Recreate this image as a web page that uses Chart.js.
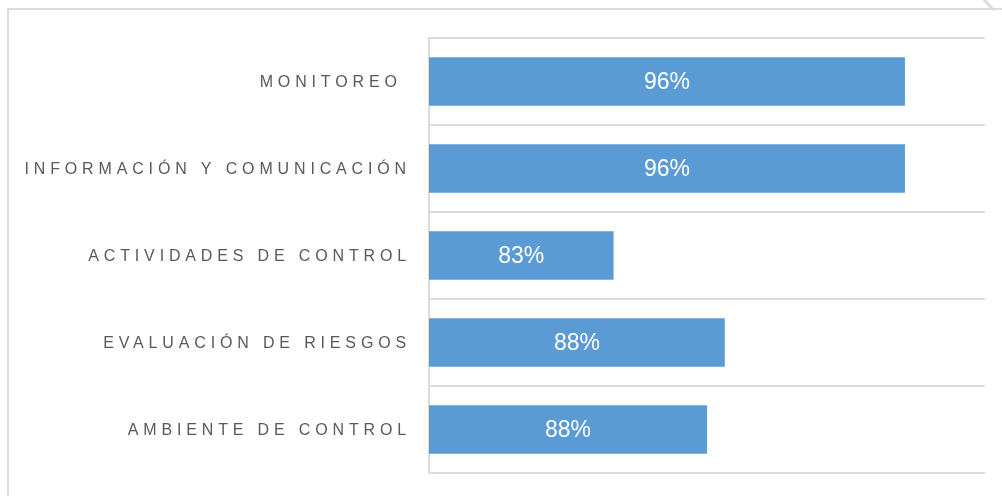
<!DOCTYPE html>
<html lang="es">
<head>
<meta charset="UTF-8">
<title>Componentes del control interno</title>
<script src="https://cdn.jsdelivr.net/npm/chart.js"></script>
<style>
    html, body {
        margin: 0;
        padding: 0;
        background: #fff;
    }

    .wrap {
        position: relative;
        width: 1002px;
        height: 496px;
        overflow: hidden;
    }

    /* light frame around the chart */
    .frame {
        position: absolute;
        left: 7px;
        top: 8px;
        width: 1100px;
        height: 600px;
        border-left: 2px solid #dcdcdc;
        border-top: 2px solid #dcdcdc;
    }

    .corner {
        position: absolute;
        left: 987px;
        top: -3px;
        width: 3px;
        height: 15px;
        background: #dcdcdc;
        transform: rotate(-42deg);
    }

    canvas {
        position: absolute;
        left: 0;
        top: 0;
    }
</style>
</head>
<body>
<div class="wrap">
    <div class="frame"></div>
    <div class="corner"></div>
    <canvas id="chart" width="1002" height="496"></canvas>
</div>

<script>
    // Components, top to bottom
    const categories = ['MONITOREO ', 'INFORMACIÓN Y COMUNICACIÓN', 'ACTIVIDADES DE CONTROL', 'EVALUACIÓN DE RIESGOS', 'AMBIENTE DE CONTROL'];
    // Compliance per component (%)
    const values = [96.4, 96.4, 83.3, 88.3, 87.5];
    const axisMin = 75;
    const axisMax = 100;

    // Spaced-out category names to the left of the axis
    const categoryLabels = {
        id: 'categoryLabels',
        afterDraw(chart) {
            const ctx = chart.ctx;
            const yScale = chart.scales.y;
            ctx.save();
            ctx.font = '16px "Liberation Sans", Arial, sans-serif';
            ctx.letterSpacing = '4.85px';
            ctx.fillStyle = '#595959';
            ctx.textAlign = 'right';
            ctx.textBaseline = 'middle';
            chart.data.labels.forEach(function (label, i) {
                ctx.fillText(label, 411, yScale.getPixelForTick(i) + 1);
            });
            ctx.restore();
        }
    };

    // Percentage written in the middle of each bar
    const barValues = {
        id: 'barValues',
        afterDraw(chart) {
            const ctx = chart.ctx;
            const xScale = chart.scales.x;
            const yScale = chart.scales.y;
            const data = chart.data.datasets[0].data;
            ctx.save();
            ctx.font = '23px "Liberation Sans", Arial, sans-serif';
            ctx.fillStyle = '#ffffff';
            ctx.textAlign = 'center';
            ctx.textBaseline = 'middle';
            data.forEach(function (v, i) {
                const mid = (xScale.getPixelForValue(v) + xScale.getPixelForValue(axisMin)) / 2;
                ctx.fillText(Math.round(v) + '%', mid, yScale.getPixelForTick(i) + 1);
            });
            ctx.restore();
        }
    };

    new Chart(document.getElementById('chart'), {
        type: 'bar',
        data: {
            labels: categories,
            datasets: [{
                data: values,
                backgroundColor: '#5b9bd5',
                barPercentage: 0.557,
                categoryPercentage: 1
            }]
        },
        options: {
            indexAxis: 'y',
            responsive: false,
            animation: false,
            layout: {
                padding: { left: 429, right: 17, top: 38, bottom: 23 }
            },
            plugins: {
                legend: { display: false },
                tooltip: { enabled: false }
            },
            scales: {
                x: {
                    display: false,
                    min: axisMin,
                    max: axisMax
                },
                y: {
                    ticks: { display: false },
                    grid: {
                        color: '#dcdcdc',
                        lineWidth: 2,
                        drawTicks: false,
                        tickLength: 0
                    },
                    border: { color: '#dcdcdc', width: 2 },
                    afterFit(scale) {
                        scale.width = 0;
                    }
                }
            }
        },
        plugins: [categoryLabels, barValues]
    });
</script>
</body>
</html>
